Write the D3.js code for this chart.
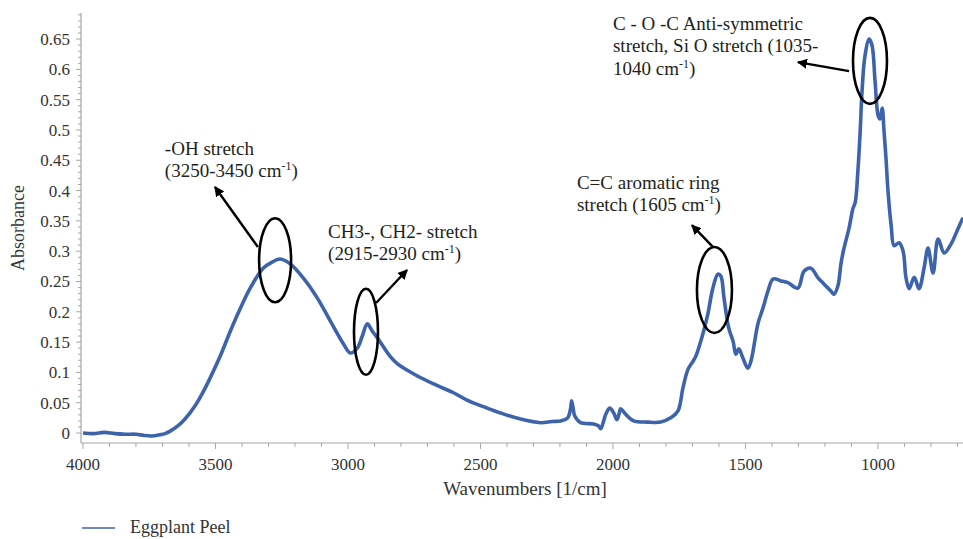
<!DOCTYPE html>
<html>
<head>
<meta charset="utf-8">
<script src="https://cdn.jsdelivr.net/npm/d3@7/dist/d3.min.js"></script>
<style>
  html, body { margin: 0; padding: 0; background: #fff; }
  svg { display: block; }
  text { font-family: "Liberation Serif", "DejaVu Serif", serif; }
</style>
</head>
<body>
<svg id="chart" width="963" height="539"></svg>
<script>
// ---- Data ----
const wavenumbers = [
  4000, 3960, 3920, 3880, 3840, 3800, 3770, 3740, 3710, 3690,
  3671, 3641, 3615, 3577, 3550, 3520, 3482, 3444, 3407, 3369,
  3320, 3286, 3256, 3218, 3169, 3116, 3067, 3017, 2991, 2965,
  2946, 2927, 2908, 2889, 2840, 2813, 2750, 2677, 2600, 2549,
  2480, 2424, 2349, 2273, 2230, 2197, 2171, 2160, 2156, 2150,
  2144, 2122, 2073, 2055, 2046, 2035, 2027, 2012, 1997, 1985,
  1978, 1971, 1960, 1952, 1922, 1870, 1820, 1782, 1755, 1736,
  1717, 1700, 1687, 1661, 1642, 1623, 1604, 1593, 1581, 1563,
  1547, 1536, 1525, 1510, 1491, 1479, 1453, 1434, 1415, 1396,
  1366, 1340, 1302, 1279, 1253, 1226, 1204, 1177, 1166, 1151,
  1139, 1128, 1109, 1094, 1086, 1075, 1067, 1060, 1049, 1033,
  1022, 1011, 999, 992, 984, 977, 969, 962, 950, 939,
  920, 905, 894, 882, 863, 845, 826, 811, 792, 773,
  750, 724, 697, 679
];
const absorbance = [
  0.000, -0.001, 0.001, -0.001, -0.002, -0.002, -0.004, -0.005, -0.003, -0.001,
  0.003, 0.012, 0.023, 0.045, 0.065, 0.091, 0.127, 0.168, 0.205, 0.239,
  0.272, 0.282, 0.287, 0.279, 0.256, 0.223, 0.185, 0.147, 0.132, 0.140,
  0.160, 0.180, 0.168, 0.157, 0.126, 0.114, 0.097, 0.081, 0.066, 0.054,
  0.042, 0.033, 0.023, 0.017, 0.019, 0.020, 0.025, 0.040, 0.053, 0.040,
  0.028, 0.017, 0.015, 0.012, 0.007, 0.020, 0.031, 0.041, 0.033, 0.022,
  0.030, 0.040, 0.035, 0.031, 0.020, 0.018, 0.018, 0.025, 0.036, 0.074,
  0.105, 0.117, 0.127, 0.163, 0.196, 0.239, 0.262, 0.259, 0.223, 0.173,
  0.152, 0.130, 0.139, 0.124, 0.107, 0.119, 0.180, 0.206, 0.234, 0.254,
  0.251, 0.248, 0.239, 0.267, 0.272, 0.256, 0.246, 0.234, 0.229, 0.243,
  0.281, 0.305, 0.338, 0.371, 0.380, 0.437, 0.498, 0.564, 0.622, 0.650,
  0.639, 0.581, 0.523, 0.518, 0.536, 0.498, 0.449, 0.399, 0.342, 0.309,
  0.314, 0.300, 0.256, 0.238, 0.257, 0.238, 0.272, 0.305, 0.264, 0.320,
  0.297, 0.312, 0.338, 0.355
];
const seriesName = "Eggplant Peel";
const xTickValues = [4000, 3500, 3000, 2500, 2000, 1500, 1000];
const yTickValues = [0, 0.05, 0.1, 0.15, 0.2, 0.25, 0.3, 0.35, 0.4, 0.45, 0.5, 0.55, 0.6, 0.65];

// Annotations (in data coordinates)
const annoLabels = [
  ["-OH stretch", "(3250-3450 cm|-1|)"],
  ["CH3-, CH2- stretch", "(2915-2930 cm|-1|)"],
  ["C=C aromatic ring", "stretch (1605 cm|-1|)"],
  ["C - O -C Anti-symmetric", "stretch, Si O stretch (1035-", "1040 cm|-1|)"]
];
const annoTextAt = [[3691, 0.459], [3075, 0.322], [2136, 0.403], [2000, 0.665]];
const annoEllipseAt = [[3275, 0.285], [2932, 0.167], [1617, 0.236], [1030, 0.614]];
const annoArrowFrom = [[3340, 0.307], [2894, 0.2145], [1623, 0.307], [1109, 0.597]];
const annoArrowTo = [[3502, 0.406], [2777, 0.269], [1702, 0.343], [1302, 0.612]];

// ---- Layout ----
const svg = d3.select("#chart");
const mLeft = 81, mRight = 963, mTop = 13, mBottom = 443;

const x = d3.scaleLinear().domain([4007.5, 679]).range([mLeft, mRight]);
const y = d3.scaleLinear().domain([-0.0165, 0.693]).range([mBottom, mTop]);

const axisColor = "#a6a6a6";
const textColor = "#333";

// X axis
const gx = svg.append("g").attr("transform", `translate(0,${mBottom})`);
gx.append("line").attr("x1", mLeft).attr("x2", mRight).attr("stroke", axisColor).attr("stroke-width", 1.2);
gx.selectAll("line.minor").data(d3.range(4000, 679, -100)).join("line")
  .attr("class", "minor")
  .attr("x1", d => x(d)).attr("x2", d => x(d))
  .attr("y1", 0).attr("y2", d => d % 500 === 0 ? 6 : 4)
  .attr("stroke", axisColor).attr("stroke-width", 1);
gx.selectAll("text").data(xTickValues).join("text")
  .attr("x", d => x(d)).attr("y", 27)
  .attr("text-anchor", "middle")
  .attr("font-size", 17).attr("fill", textColor)
  .text(d => d);

// Y axis
const gy = svg.append("g").attr("transform", `translate(${mLeft},0)`);
gy.append("line").attr("y1", mTop).attr("y2", mBottom).attr("stroke", axisColor).attr("stroke-width", 1.2);
gy.selectAll("line.minor").data(d3.range(0, 70)).join("line")
  .attr("class", "minor")
  .attr("x1", d => d % 5 === 0 ? -5 : -3).attr("x2", 0)
  .attr("y1", d => y(d / 100)).attr("y2", d => y(d / 100))
  .attr("stroke", axisColor).attr("stroke-width", 1);
gy.selectAll("text").data(yTickValues).join("text")
  .attr("x", -11).attr("y", d => y(d))
  .attr("dy", "0.35em")
  .attr("text-anchor", "end")
  .attr("font-size", 17).attr("fill", textColor)
  .text(d => d3.format("~g")(d));

// Axis titles
svg.append("text")
  .attr("transform", `translate(24,228) rotate(-90)`)
  .attr("text-anchor", "middle")
  .attr("font-size", 18).attr("fill", textColor)
  .text("Absorbance");
svg.append("text")
  .attr("x", 525).attr("y", 495)
  .attr("text-anchor", "middle")
  .attr("font-size", 19).attr("fill", textColor)
  .text("Wavenumbers [1/cm]");

// Spectrum line
const pts = wavenumbers.map((w, i) => [w, absorbance[i]]);
const lineGen = d3.line().x(d => x(d[0])).y(d => y(d[1])).curve(d3.curveCatmullRom.alpha(0.5));
svg.append("path")
  .attr("d", lineGen(pts))
  .attr("fill", "none")
  .attr("stroke", "#3d64aa")
  .attr("stroke-width", 3.6)
  .attr("stroke-linejoin", "round");

// Legend
svg.append("line").attr("x1", 82).attr("x2", 115).attr("y1", 528).attr("y2", 528)
  .attr("stroke", "#3d64aa").attr("stroke-width", 1.5);
svg.append("text").attr("x", 130).attr("y", 533)
  .attr("font-size", 18).attr("fill", textColor).text(seriesName);

// Annotations
const defs = svg.append("defs");
defs.append("marker").attr("id", "ah")
  .attr("viewBox", "0 0 10 10").attr("refX", 9).attr("refY", 5)
  .attr("markerWidth", 4.2).attr("markerHeight", 4.2)
  .attr("markerUnits", "strokeWidth")
  .attr("orient", "auto")
  .append("path").attr("d", "M0,0 L10,5 L0,10 Z").attr("fill", "#000");

const ellipseR = [[16, 42], [12, 43], [17.5, 43], [17, 43]];
annoEllipseAt.forEach((c, i) => {
  svg.append("ellipse")
    .attr("cx", x(c[0])).attr("cy", y(c[1]))
    .attr("rx", ellipseR[i][0]).attr("ry", ellipseR[i][1])
    .attr("fill", "none").attr("stroke", "#000").attr("stroke-width", 2.6);
});
annoArrowFrom.forEach((f, i) => {
  const t = annoArrowTo[i];
  svg.append("line")
    .attr("x1", x(f[0])).attr("y1", y(f[1]))
    .attr("x2", x(t[0])).attr("y2", y(t[1]))
    .attr("stroke", "#000").attr("stroke-width", 2.4)
    .attr("marker-end", "url(#ah)");
});
annoLabels.forEach((lines, i) => {
  const tx = x(annoTextAt[i][0]), ty = y(annoTextAt[i][1]);
  lines.forEach((ln, j) => {
    const t = svg.append("text").attr("x", tx).attr("y", ty + j * 22.5)
      .attr("font-size", 19).attr("fill", "#231f20");
    const parts = ln.split("|");
    parts.forEach((p, k) => {
      if (k % 2 === 1) {
        t.append("tspan").attr("font-size", 12).attr("dy", -7).text(p);
      } else {
        const ts = t.append("tspan").text(p);
        if (k > 0) ts.attr("dy", 7);
      }
    });
  });
});
</script>
</body>
</html>
